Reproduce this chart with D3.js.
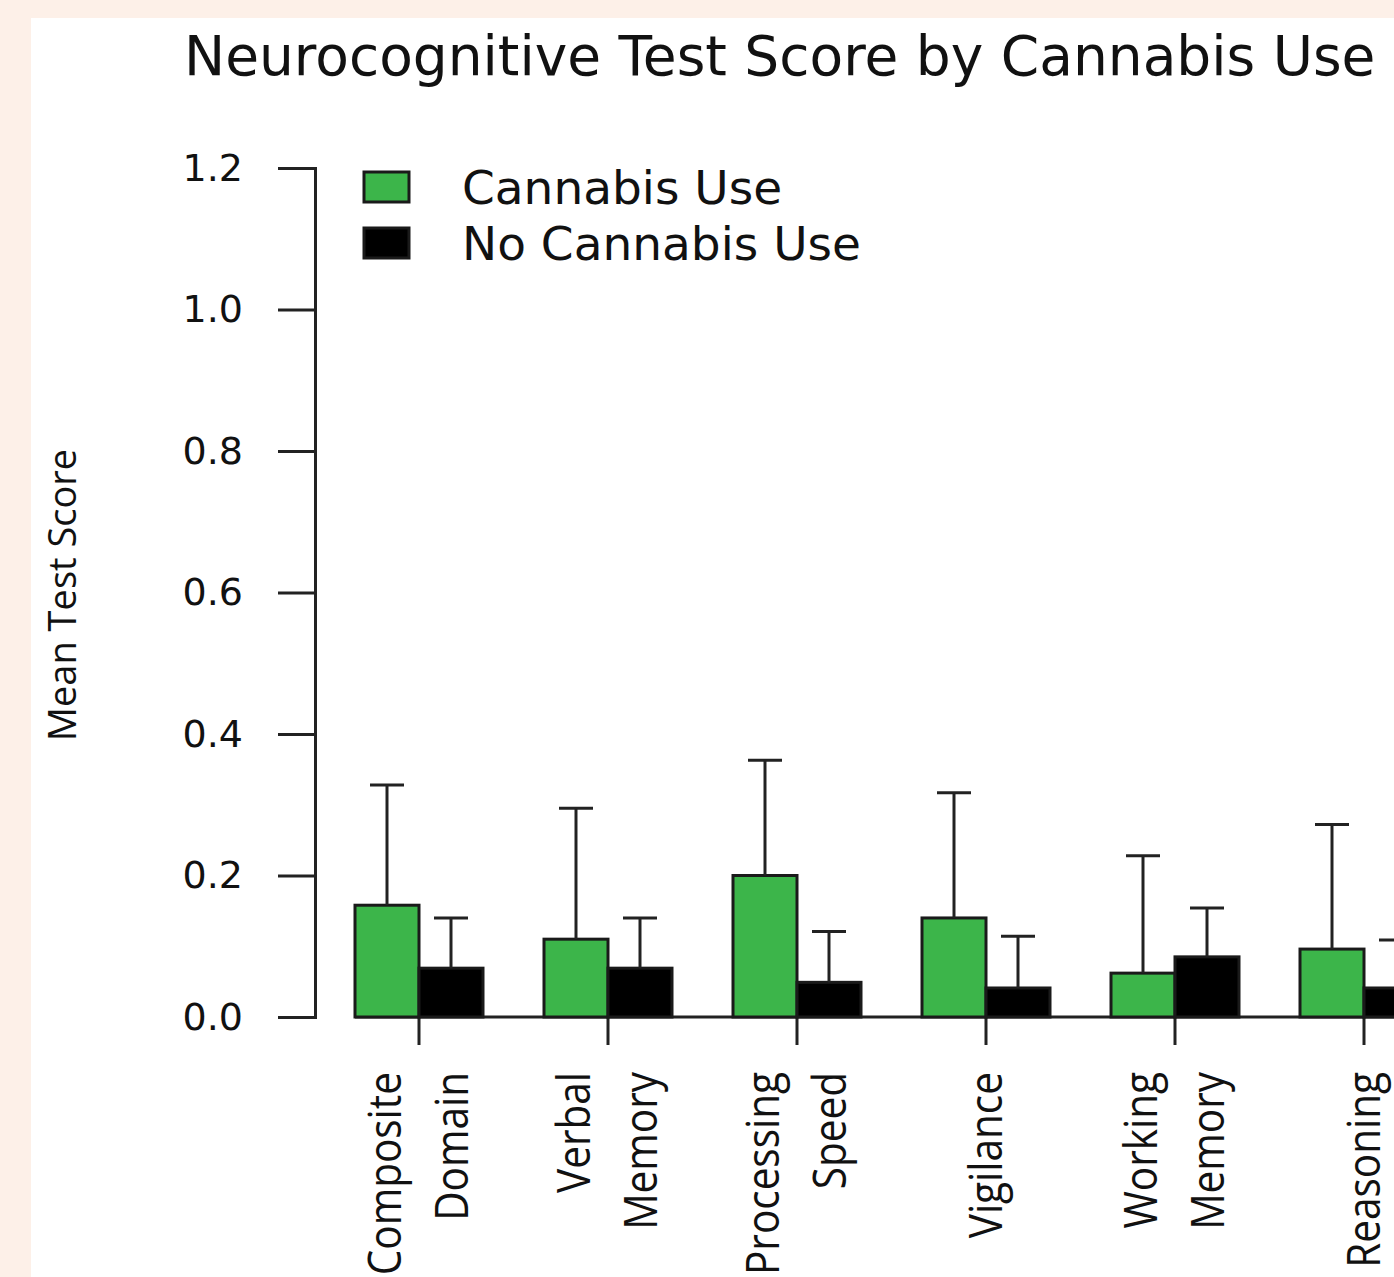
<!DOCTYPE html>
<html>
<head>
<meta charset="utf-8">
<script src="https://cdn.jsdelivr.net/npm/d3@7"></script>
<style>
  html, body { margin: 0; padding: 0; background: #fdf0e8; overflow: hidden; }
  svg { display: block; }
</style>
</head>
<body>
<script>
let width = 1394;
let height = 1277;

let categories = [
    ["Composite", "Domain"],
    ["Verbal", "Memory"],
    ["Processing", "Speed"],
    ["Vigilance"],
    ["Working", "Memory"],
    ["Reasoning"],
];
let seriesNames = ["Cannabis Use", "No Cannabis Use"];
let seriesColors = ["#3cb54a", "#000000"];

// means and upper error values
let cannabisMean = [0.158, 0.110, 0.200, 0.140, 0.062, 0.096];
let cannabisUpper = [0.328, 0.295, 0.363, 0.317, 0.228, 0.272];
let noCannabisMean = [0.069, 0.069, 0.049, 0.041, 0.085, 0.041];
let noCannabisUpper = [0.140, 0.140, 0.121, 0.114, 0.154, 0.109];

let yTicks = [0, 0.2, 0.4, 0.6, 0.8, 1.0, 1.2];

let svg = d3.select("body").append("svg")
    .attr("width", width)
    .attr("height", height);

// white panel inside the peach frame
svg.append("rect")
    .attr("x", 31).attr("y", 18)
    .attr("width", width).attr("height", height)
    .attr("fill", "#ffffff");

let keys = categories.map(d => d.join(" "));

let y = d3.scaleLinear().domain([0, 1.2]).range([1017, 168]);

// step 189, bars 128 wide, first group starts at 355
let x0 = d3.scaleBand()
    .domain(keys)
    .range([355, 355 + 189 * (keys.length - 61 / 189)])
    .paddingInner(61 / 189)
    .paddingOuter(0);

let x1 = d3.scaleBand()
    .domain(seriesNames)
    .range([0, x0.bandwidth()]);

let rows = [];
keys.forEach((k, i) => {
    rows.push({ key: k, series: seriesNames[0], mean: cannabisMean[i], upper: cannabisUpper[i], color: seriesColors[0] });
    rows.push({ key: k, series: seriesNames[1], mean: noCannabisMean[i], upper: noCannabisUpper[i], color: seriesColors[1] });
});

// title
svg.append("text")
    .attr("x", 184)
    .attr("y", 75)
    .style("font-family", "DejaVu Sans")
    .style("font-size", "55px")
    .attr("fill", "#111")
    .text("Neurocognitive Test Score by Cannabis Use");

// y axis
let yAxis = d3.axisLeft(y)
    .tickValues(yTicks)
    .tickFormat(d3.format(".1f"))
    .tickSize(37)
    .tickSizeOuter(37)
    .tickPadding(35);

let gy = svg.append("g")
    .attr("transform", "translate(315,0)")
    .call(yAxis);
gy.select(".domain").attr("stroke", "#222").attr("stroke-width", 3).attr("fill", "none");
gy.selectAll(".tick line").attr("stroke", "#222").attr("stroke-width", 3);
gy.selectAll(".tick text")
    .style("font-family", "DejaVu Sans")
    .style("font-size", "38px")
    .attr("fill", "#111");

// y axis title
svg.append("text")
    .attr("transform", "translate(63,595) rotate(-90)")
    .attr("text-anchor", "middle")
    .attr("dy", "0.35em")
    .style("font-family", "Open Sans")
    .style("font-size", "38px")
    .attr("fill", "#111")
    .text("Mean Test Score");

// baseline
svg.append("line")
    .attr("x1", x0.range()[0]).attr("x2", x0.range()[1])
    .attr("y1", y(0)).attr("y2", y(0))
    .attr("stroke", "#222").attr("stroke-width", 3);

// x axis ticks
let xAxis = d3.axisBottom(x0).tickSize(28).tickSizeOuter(0).tickFormat("");
let gx = svg.append("g")
    .attr("transform", "translate(0," + y(0) + ")")
    .call(xAxis);
gx.select(".domain").remove();
gx.selectAll(".tick line").attr("stroke", "#222").attr("stroke-width", 3);

// bars
let g = svg.append("g");
g.selectAll("rect.bar")
    .data(rows)
    .enter()
    .append("rect")
    .attr("class", "bar")
    .attr("x", d => x0(d.key) + x1(d.series))
    .attr("y", d => y(d.mean))
    .attr("width", x1.bandwidth())
    .attr("height", d => y(0) - y(d.mean))
    .attr("fill", d => d.color)
    .attr("stroke", "#1a1a1a")
    .attr("stroke-width", 3);

// error bars
let eb = g.selectAll("g.err")
    .data(rows)
    .enter()
    .append("g")
    .attr("class", "err")
    .attr("transform", d => "translate(" + (x0(d.key) + x1(d.series) + x1.bandwidth() / 2) + ",0)");
eb.append("line")
    .attr("x1", 0).attr("x2", 0)
    .attr("y1", d => y(d.mean)).attr("y2", d => y(d.upper))
    .attr("stroke", "#222").attr("stroke-width", 3);
eb.append("line")
    .attr("x1", -17).attr("x2", 17)
    .attr("y1", d => y(d.upper)).attr("y2", d => y(d.upper))
    .attr("stroke", "#222").attr("stroke-width", 3);

// category labels, rotated, one column per line
let lineGap = 67;
categories.forEach((lines, i) => {
    let cx = x0(keys[i]) + x0.bandwidth() / 2;
    lines.forEach((t, j) => {
        let lx = cx + (j - (lines.length - 1) / 2) * lineGap;
        svg.append("text")
            .attr("transform", "translate(" + lx + ",1072) rotate(-90) scale(0.9,1)")
            .attr("text-anchor", "end")
            .attr("dy", "0.35em")
            .style("font-family", "Open Sans")
            .style("font-size", "45px")
            .attr("fill", "#111")
            .text(t);
    });
});

// legend
let legend = svg.append("g");
seriesNames.forEach((s, i) => {
    legend.append("rect")
        .attr("x", 364).attr("y", 172 + i * 56)
        .attr("width", 45).attr("height", 30)
        .attr("fill", seriesColors[i])
        .attr("stroke", "#1a1a1a").attr("stroke-width", 3);
    legend.append("text")
        .attr("x", 462).attr("y", 204 + i * 56)
        .style("font-family", "DejaVu Sans")
        .style("font-size", "47px")
        .attr("fill", "#111")
        .text(s);
});
</script>
</body>
</html>
